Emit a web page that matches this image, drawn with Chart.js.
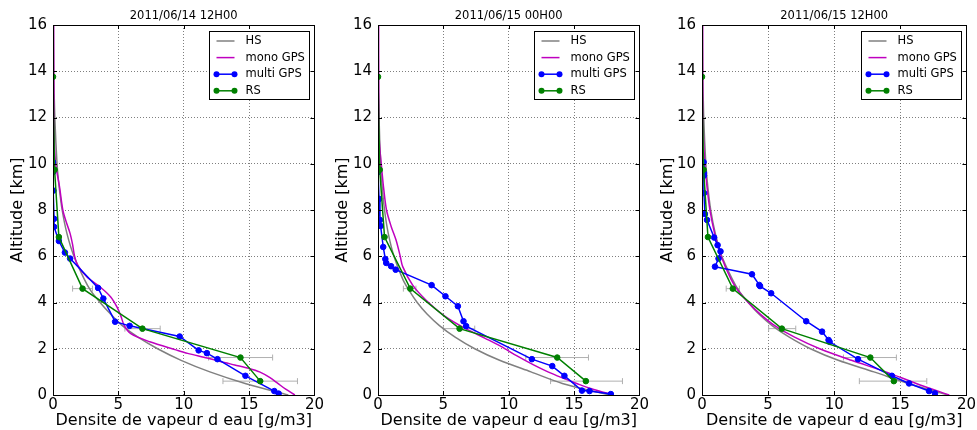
<!DOCTYPE html>
<html>
<head>
<meta charset="utf-8">
<title>Densite de vapeur d eau</title>
<script src="https://cdn.jsdelivr.net/npm/chart.js@4.4.0/dist/chart.umd.min.js"></script>
<style>
    html, body { margin: 0; padding: 0; background: #fff; }
    .row { display: flex; width: 977px; height: 430px; }
    .row canvas { display: block; }
</style>
</head>
<body>
<div class="row">
    <canvas id="c1" width="325" height="430"></canvas>
    <canvas id="c2" width="325" height="430"></canvas>
    <canvas id="c3" width="327" height="430"></canvas>
</div>
<script>
// --- data (altitude km, density g/m3) ---
const panelTitles = ['2011/06/14 12H00', '2011/06/15 00H00', '2011/06/15 12H00'];
const legendLabels = ['HS', 'mono GPS', 'multi GPS', 'RS'];
const xTicks = [0, 5, 10, 15, 20];
const yTicks = [0, 2, 4, 6, 8, 10, 12, 14, 16];

// HS (gray), same altitude grid for the three panels
const hsAlt = [0, 0.5, 1, 1.5, 2, 2.5, 3, 3.5, 4, 4.5, 5, 6, 7, 8, 9, 10, 12, 14, 16];
const p1Hs = [18.0, 14.7, 12.0, 9.8, 8.0, 6.5, 5.3, 4.4, 3.6, 2.9, 2.4, 1.6, 1.06, 0.70, 0.47, 0.31, 0.14, 0.06, 0.03];
const p2Hs = [17.7, 14.1, 11.7, 9.3, 7.4, 5.9, 4.7, 3.75, 3.0, 2.4, 1.9, 1.22, 0.78, 0.5, 0.32, 0.2, 0.08, 0.03, 0.01];
const p3Hs = [18.6, 15.6, 13.0, 10.3, 8.2, 6.6, 5.3, 4.3, 3.5, 2.8, 2.3, 1.5, 1.0, 0.66, 0.44, 0.29, 0.13, 0.06, 0.03];

// mono GPS (magenta)
const p1MonoAlt = [16, 14, 12, 11, 10, 9, 8, 7.5, 7, 6.5, 6, 5.6, 5.1, 4.65, 4.25, 3.8, 3.4, 3.0, 2.65, 2.3, 1.95, 1.8, 1.6, 1.45, 1.3, 1.15, 1.0, 0.75, 0.5, 0.25, 0];
const p1MonoRho = [0.05, 0.06, 0.08, 0.1, 0.2, 0.5, 0.75, 1.0, 1.3, 1.5, 1.65, 1.9, 2.6, 3.65, 4.4, 4.9, 5.2, 5.45, 5.95, 7.4, 9.4, 10.3, 11.8, 12.8, 13.9, 15.0, 15.8, 16.6, 17.2, 17.8, 18.5];
const p2MonoAlt = [16, 13, 11, 10, 9, 8, 7.3, 6.7, 6, 5.55, 4.76, 4.11, 3.39, 2.88, 2.45, 2.09, 1.7, 1.3, 1.0, 0.72, 0.5, 0.29, 0.1, 0];
const p2MonoRho = [0.05, 0.06, 0.1, 0.25, 0.42, 0.65, 1.0, 1.38, 1.7, 1.89, 2.64, 3.66, 5.16, 6.67, 8.2, 9.44, 10.6, 11.9, 13.0, 14.2, 15.2, 16.2, 17.4, 18.0];
const p3MonoAlt = [16, 14, 12, 11, 10, 9, 8, 7, 6, 5, 4.5, 4, 3.5, 3, 2.5, 2, 1.5, 1, 0.5, 0];
const p3MonoRho = [0.05, 0.05, 0.07, 0.12, 0.22, 0.38, 0.6, 0.95, 1.45, 2.2, 2.75, 3.5, 4.4, 5.5, 7.0, 8.9, 11.3, 13.9, 16.2, 18.7];

// multi GPS (blue)
const p1MultiAlt = [10.07, 9.64, 8.84, 7.62, 7.27, 6.66, 6.16, 5.90, 4.63, 4.17, 3.17, 2.99, 2.53, 1.93, 1.81, 1.55, 0.83, 0.17, 0.06];
const p1MultiRho = [0.0, 0.0, 0.03, 0.08, 0.08, 0.45, 0.91, 1.31, 3.45, 3.85, 4.75, 5.86, 9.69, 11.14, 11.77, 12.58, 14.72, 16.93, 17.26];
const p2MultiAlt = [9.64, 8.48, 7.57, 7.31, 6.40, 5.88, 5.71, 5.57, 5.42, 4.75, 4.27, 3.84, 3.19, 2.98, 1.55, 1.25, 0.83, 0.19, 0.17, 0.04];
const p2MultiRho = [0.0, 0.08, 0.15, 0.2, 0.4, 0.56, 0.63, 1.0, 1.35, 4.1, 5.16, 6.11, 6.54, 6.74, 11.77, 13.33, 14.26, 15.6, 16.18, 17.81];
const p3MultiAlt = [10.07, 9.60, 9.49, 8.73, 7.83, 7.57, 6.81, 6.48, 6.21, 5.90, 5.55, 5.22, 4.76, 4.71, 4.40, 3.19, 2.74, 2.38, 2.30, 1.55, 0.83, 0.50, 0.17, 0.07];
const p3MultiRho = [0.12, 0.15, 0.15, 0.15, 0.22, 0.38, 0.92, 1.18, 1.4, 1.25, 0.98, 3.78, 4.33, 4.39, 5.23, 7.88, 9.08, 9.57, 9.65, 11.8, 14.36, 15.66, 17.17, 17.62];

// RS radiosonde (green)
const rsAlt = [13.76, 9.74, 6.83, 4.60, 2.87, 1.62, 0.60];
const p1RsRho = [0.0, 0.12, 0.45, 2.26, 6.84, 14.34, 15.85];
const p2RsRho = [0.0, 0.13, 0.5, 2.47, 6.24, 13.71, 15.9];
const p3RsRho = [0.0, 0.12, 0.45, 2.33, 6.04, 12.73, 14.51];

// RS error bars (low / high ends) on the four lowest levels
const errAlt = [4.60, 2.87, 1.62, 0.60];
const p1ErrLo = [1.5, 5.5, 11.9, 13.0];
const p1ErrHi = [3.02, 8.2, 16.8, 18.7];
const p2ErrLo = [1.94, 5.0, 11.3, 13.2];
const p2ErrHi = [2.9, 7.4, 16.1, 18.7];
const p3ErrLo = [1.83, 5.04, 10.7, 11.9];
const p3ErrHi = [2.83, 7.09, 14.7, 17.0];

const FONT = 'DejaVu Sans';
const C_HS = '#808080', C_MONO = '#bf00bf', C_MULTI = '#0000ff', C_RS = '#008000', C_ERR = '#b0b0b0';

function pts(xs, ys) {
    return xs.map((x, i) => ({ x: x, y: ys[i] }));
}

// frame, inward ticks, legend box and title (matplotlib look)
const panelDecor = {
    id: 'panelDecor',
    afterDatasetsDraw(chart, args, opts) {
        const ctx = chart.ctx;
        const a = chart.chartArea;
        const sx = chart.scales.x, sy = chart.scales.y;
        ctx.save();
        ctx.strokeStyle = '#000';
        ctx.lineWidth = 1;
        ctx.strokeRect(Math.round(a.left) + 0.5, Math.round(a.top) + 0.5, Math.round(a.right - a.left), Math.round(a.bottom - a.top));
        ctx.beginPath();
        xTicks.forEach(v => {
            const px = Math.round(sx.getPixelForValue(v)) + 0.5;
            ctx.moveTo(px, a.bottom); ctx.lineTo(px, a.bottom - 4);
            ctx.moveTo(px, a.top); ctx.lineTo(px, a.top + 4);
        });
        yTicks.forEach(v => {
            const py = Math.round(sy.getPixelForValue(v)) + 0.5;
            ctx.moveTo(a.left, py); ctx.lineTo(a.left + 4, py);
            ctx.moveTo(a.right, py); ctx.lineTo(a.right - 4, py);
        });
        ctx.stroke();

        // legend
        const bw = 100, bh = 68;
        const bx = Math.round(a.right - 5 - bw) + 0.5, by = Math.round(a.top + 6) + 0.5;
        ctx.fillStyle = '#fff';
        ctx.fillRect(bx, by, bw, bh);
        ctx.strokeStyle = '#000';
        ctx.strokeRect(bx, by, bw, bh);
        ctx.font = '11.5px ' + FONT;
        ctx.textBaseline = 'middle';
        ctx.textAlign = 'left';
        let row = 0;
        chart.data.datasets.forEach(ds => {
            if (!ds.label) return;
            const y = by + 9.5 + row * 16.6;
            ctx.strokeStyle = ds.borderColor;
            ctx.lineWidth = 1.5;
            ctx.beginPath();
            ctx.moveTo(bx + 7, y); ctx.lineTo(bx + 25, y);
            ctx.stroke();
            if (ds.pointRadius > 0) {
                ctx.fillStyle = ds.borderColor;
                [bx + 7, bx + 25].forEach(mx => {
                    ctx.beginPath();
                    ctx.arc(mx, y, 3, 0, 2 * Math.PI);
                    ctx.fill();
                });
            }
            ctx.fillStyle = '#000';
            ctx.fillText(ds.label, bx + 36, y);
            row++;
        });

        // title
        ctx.font = '11.5px ' + FONT;
        ctx.textAlign = 'center';
        ctx.fillStyle = '#000';
        ctx.fillText(opts.text, (a.left + a.right) / 2, 16);
        ctx.restore();
    }
};

function makePanel(id, title, hs, monoAlt, monoRho, multiAlt, multiRho, rsRho, errLo, errHi, leftW, rightPad) {
    const datasets = [
        { label: legendLabels[0], data: pts(hs, hsAlt), borderColor: C_HS, borderWidth: 1.5, pointRadius: 0, tension: 0.3, order: 4 },
        { label: legendLabels[1], data: pts(monoRho, monoAlt), borderColor: C_MONO, borderWidth: 1.5, pointRadius: 0, tension: 0.3, order: 3 },
        { label: legendLabels[2], data: pts(multiRho, multiAlt), borderColor: C_MULTI, backgroundColor: C_MULTI, borderWidth: 1.5, pointRadius: 2.8, pointBorderWidth: 1, order: 2 },
        { label: legendLabels[3], data: pts(rsRho, rsAlt), borderColor: C_RS, backgroundColor: C_RS, borderWidth: 1.5, pointRadius: 2.8, pointBorderWidth: 1, order: 1 }
    ];
    // one small dataset per error bar, caps drawn as rotated line markers
    errAlt.forEach((alt, i) => {
        datasets.push({
            label: '',
            data: [{ x: errLo[i], y: alt }, { x: errHi[i], y: alt }],
            borderColor: C_ERR, backgroundColor: C_ERR, borderWidth: 1,
            pointStyle: 'line', rotation: 90, pointRadius: 3, pointBorderWidth: 1,
            order: 5
        });
    });

    new Chart(document.getElementById(id), {
        type: 'scatter',
        data: { datasets: datasets },
        options: {
            responsive: false,
            devicePixelRatio: 1,
            animation: false,
            showLine: true,
            layout: { padding: { top: 25, right: rightPad, left: 0, bottom: 0 } },
            plugins: {
                legend: { display: false },
                tooltip: { enabled: false },
                panelDecor: { text: title }
            },
            scales: {
                x: {
                    type: 'linear', min: 0, max: 20,
                    afterFit: s => { s.height = 35; },
                    afterBuildTicks: s => { s.ticks = xTicks.map(v => ({ value: v })); },
                    ticks: { font: { family: FONT, size: 15 }, color: '#000', padding: 1, maxRotation: 0 },
                    grid: { color: 'rgba(0,0,0,0.5)', drawTicks: false },
                    border: { display: false, dash: [1, 2] },
                    title: { display: true, text: 'Densite de vapeur d eau [g/m3]', font: { family: FONT, size: 16 }, color: '#000', padding: { top: 0, bottom: 0 } }
                },
                y: {
                    type: 'linear', min: 0, max: 16,
                    afterFit: s => { s.width = leftW; },
                    afterBuildTicks: s => { s.ticks = yTicks.map(v => ({ value: v })); },
                    ticks: { font: { family: FONT, size: 15 }, color: '#000', padding: 6 },
                    grid: { color: 'rgba(0,0,0,0.5)', drawTicks: false },
                    border: { display: false, dash: [1, 2] },
                    title: { display: true, text: 'Altitude [km]', font: { family: FONT, size: 16 }, color: '#000', padding: { top: 8, bottom: 0 } }
                }
            }
        },
        plugins: [panelDecor]
    });
}

window.addEventListener('DOMContentLoaded', () => {
    makePanel('c1', panelTitles[0], p1Hs, p1MonoAlt, p1MonoRho, p1MultiAlt, p1MultiRho, p1RsRho, p1ErrLo, p1ErrHi, 53, 7);
    makePanel('c2', panelTitles[1], p2Hs, p2MonoAlt, p2MonoRho, p2MultiAlt, p2MultiRho, p2RsRho, p2ErrLo, p2ErrHi, 53, 7);
    makePanel('c3', panelTitles[2], p3Hs, p3MonoAlt, p3MonoRho, p3MultiAlt, p3MultiRho, p3RsRho, p3ErrLo, p3ErrHi, 52, 9);
});
</script>
</body>
</html>
